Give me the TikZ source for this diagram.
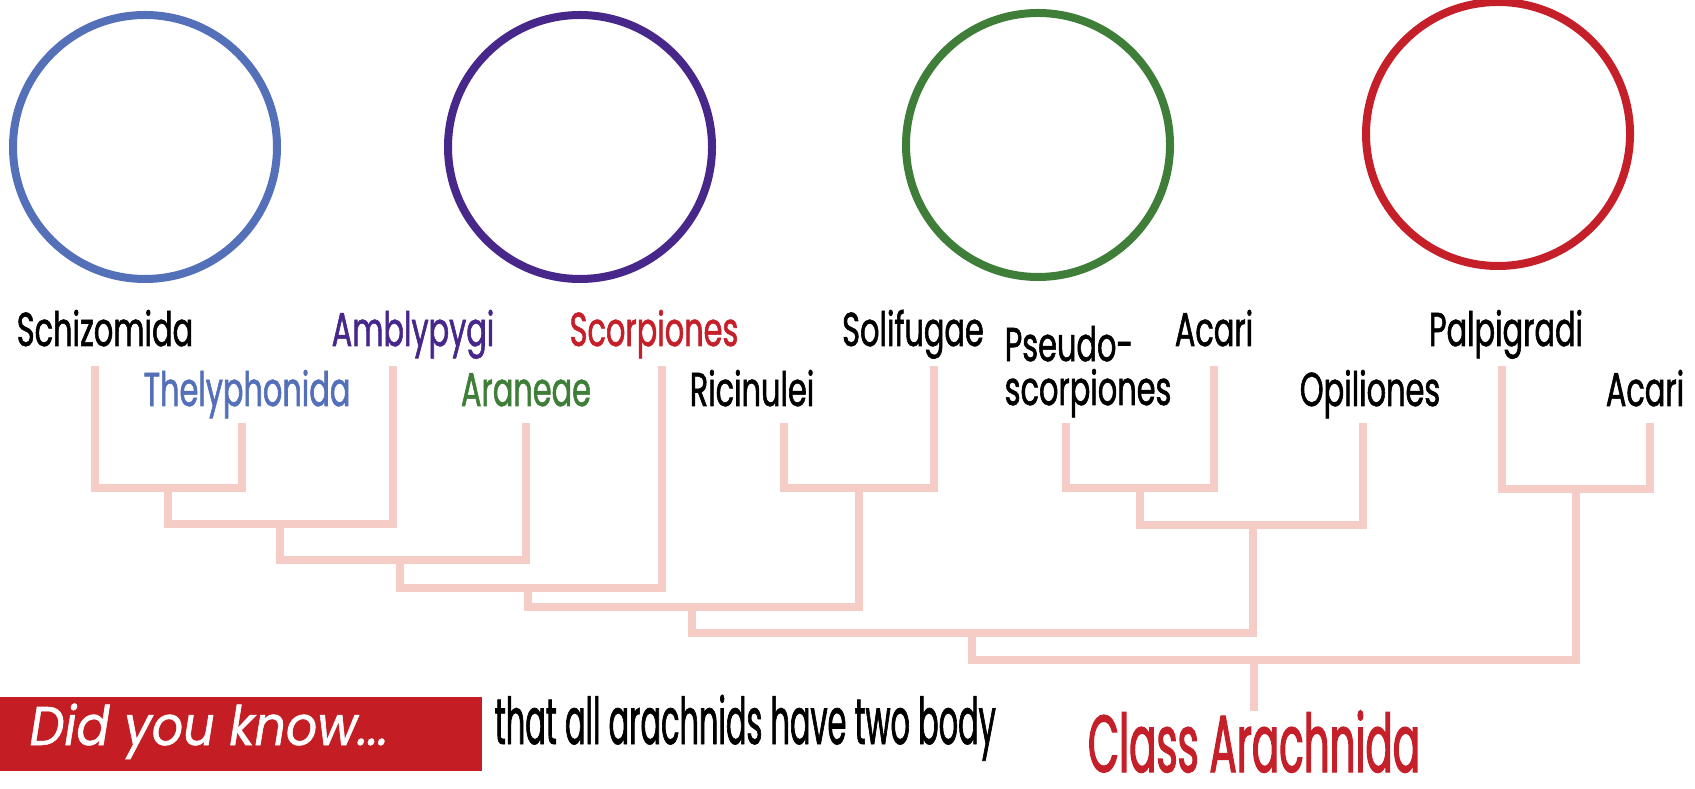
\documentclass[tikz,border=0pt]{standalone}
\usepackage{fontspec}
\setmainfont{Poppins}
\newfontfamily\condfont[FakeStretch=0.64,FakeBold=1.2]{Poppins}
\newfontfamily\factfont[FakeStretch=0.47,FakeBold=1]{Poppins}
\newfontfamily\classfont[FakeStretch=0.5,FakeBold=1.4]{Poppins}
\newfontfamily\didfont[FakeStretch=0.9,FakeBold=1]{Poppins}
\definecolor{cblue}{HTML}{5470B8}
\definecolor{cpurple}{HTML}{47288A}
\definecolor{cgreen}{HTML}{3E7E39}
\definecolor{cred}{HTML}{C5202A}
\definecolor{cpink}{HTML}{F6CDC6}
\definecolor{boxred}{HTML}{C41E24}
\tikzset{
  ring/.style={line width=0.08cm},
  clade/.style={draw=cpink, line width=0.075cm},
  taxon/.style={anchor=base, inner sep=0pt, font=\condfont\fontsize{13.5}{16}\selectfont},
}
\begin{document}
\begin{tikzpicture}[x=0.01cm,y=-0.01cm]
\useasboundingbox (0,0) rectangle (1695,789);
% circles
\draw[ring, cblue] (145,147) circle (132);
\draw[ring, cpurple] (580,147) circle (132);
\draw[ring, cgreen] (1038,145) circle (132);
\draw[ring, cred] (1498,134) circle (132);
% labels
\node[taxon] (Sch) at (105,346) {Schizomida};
\node[taxon, text=cblue] (The) at (247,406) {Thelyphonida};
\node[taxon, text=cpurple] (Amb) at (413,346) {Amblypygi};
\node[taxon, text=cgreen] (Ara) at (526,406) {Araneae};
\node[taxon, text=cred] (Sco) at (654,346) {Scorpiones};
\node[taxon] (Ric) at (752,406) {Ricinulei};
\node[taxon] (Sol) at (913,346) {Solifugae};
\node[taxon, anchor=base west] (Pse) at (1004,405) {\shortstack[l]{Pseudo-\\[-0.9pt]scorpiones}};
\node[taxon] (Ac1) at (1214,346) {Acari};
\node[taxon] (Opi) at (1370,406) {Opiliones};
\node[taxon] (Pal) at (1506,346) {Palpigradi};
\node[taxon] (Ac2) at (1645,406) {Acari};
% leaf tops
\coordinate (tSch) at (95,366);
\coordinate (tThe) at (242,423);
\coordinate (tAmb) at (393,366);
\coordinate (tAra) at (526,423);
\coordinate (tSco) at (662,366);
\coordinate (tRic) at (784,423);
\coordinate (tSol) at (934,366);
\coordinate (tPse) at (1066,423);
\coordinate (tAc1) at (1214,366);
\coordinate (tOpi) at (1363,423);
\coordinate (tPal) at (1502,366);
\coordinate (tAc2) at (1650,423);
% joins
\coordinate (j1) at (168,488);
\coordinate (j2) at (280,524);
\coordinate (j3) at (400,560);
\coordinate (j4) at (528,588);
\coordinate (j5) at (859,488);
\coordinate (j6) at (692,607);
\coordinate (j7) at (1140,488);
\coordinate (j8) at (1253,525);
\coordinate (j9) at (972,633);
\coordinate (j10) at (1576,489);
\coordinate (j11) at (1254,660);
\coordinate (rootend) at (1254,711);
\draw[clade] (tSch) |- (j1) -| (tThe);
\draw[clade] (j1) |- (j2) -| (tAmb);
\draw[clade] (j2) |- (j3) -| (tAra);
\draw[clade] (j3) |- (j4) -| (tSco);
\draw[clade] (tRic) |- (j5) -| (tSol);
\draw[clade] (j4) |- (j6) -| (j5);
\draw[clade] (tPse) |- (j7) -| (tAc1);
\draw[clade] (j7) |- (j8) -| (tOpi);
\draw[clade] (j6) |- (j9) -| (j8);
\draw[clade] (tPal) |- (j10) -| (tAc2);
\draw[clade] (j9) |- (j11) -| (j10);
\draw[clade] (j11) -- (rootend);
% root label
\node[anchor=base, inner sep=0pt, text=cred, font=\classfont\fontsize{23}{28}\selectfont] (cls) at (1254,772) {Class Arachnida};
% did you know
\fill[boxred] (0,697) rectangle (482,771);
\node[anchor=base west, inner sep=0pt, text=white, font=\didfont\itshape\fontsize{15.5}{18}\selectfont] (dyk) at (29,745) {Did you know...};
\node[anchor=base west, inner sep=0pt, font=\factfont\fontsize{18.4}{22}\selectfont] (fact) at (494,744) {that all arachnids have two body};
\end{tikzpicture}
\end{document}
